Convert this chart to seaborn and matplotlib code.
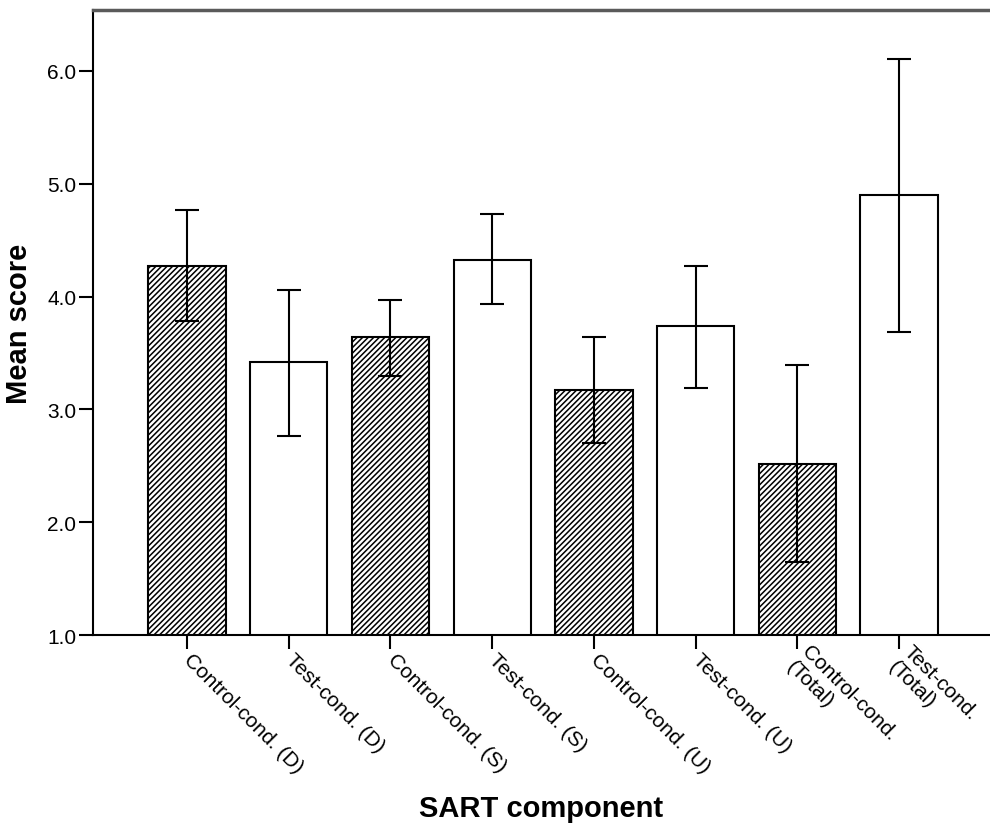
from matplotlib import pyplot as plt
import numpy as np
import seaborn as sns
import pandas as pd

# SART component scores
components = ['Control-cond. (D)', 'Test-cond. (D)', 'Control-cond. (S)', 'Test-cond. (S)',
              'Control-cond. (U)', 'Test-cond. (U)', 'Control-cond.\n(Total)', 'Test-cond.\n(Total)']
condition = ['Control', 'Test', 'Control', 'Test', 'Control', 'Test', 'Control', 'Test']
mean_score = [4.27, 3.42, 3.64, 4.32, 3.17, 3.74, 2.52, 4.90]
err_low = [3.78, 2.76, 3.30, 3.93, 2.70, 3.19, 1.65, 3.69]
err_high = [4.77, 4.06, 3.97, 4.73, 3.64, 4.27, 3.39, 6.11]
y_ticks = [1.0, 2.0, 3.0, 4.0, 5.0, 6.0]

df = pd.DataFrame({'component': components, 'condition': condition, 'mean': mean_score,
                   'low': err_low, 'high': err_high})

sns.set_style('ticks')
plt.rcParams['font.family'] = ['Liberation Sans', 'DejaVu Sans']
plt.rcParams['hatch.linewidth'] = 1.1
plt.rcParams['hatch.color'] = 'black'
# seaborn greys the text, the original is plain black
plt.rcParams['text.color'] = 'black'
plt.rcParams['axes.labelcolor'] = 'black'
plt.rcParams['xtick.color'] = 'black'
plt.rcParams['ytick.color'] = 'black'

fig = plt.figure(figsize=(9.9, 8.29), dpi=100)
ax = fig.add_axes([0.094, 0.2328, 0.906, 0.7539])

sns.barplot(data=df, x='component', y='mean', color='white', edgecolor='black',
            linewidth=1.5, width=0.76, saturation=1, ax=ax, zorder=2)

# hatch the control-condition bars
for patch, cond in zip(ax.patches, df['condition']):
    patch.set_facecolor('white')
    if cond == 'Control':
        patch.set_hatch('//////')

# error bars
xpos = np.arange(len(df))
yerr = [df['mean'] - df['low'], df['high'] - df['mean']]
ax.errorbar(xpos, df['mean'], yerr=yerr, fmt='none', ecolor='black', elinewidth=1.5,
            capsize=8.6, capthick=1.5, zorder=3)

ax.set_xlim(-0.924, 7.895)
ax.set_ylim(1.0, 6.54)
ax.set_yticks(y_ticks)
ax.set_yticklabels(['%.1f' % t for t in y_ticks], fontsize=15)
ax.set_xticks(xpos)
ax.set_xticklabels(df['component'], fontsize=15, rotation=-45, ha='left', va='center',
                   rotation_mode='anchor', multialignment='left')
ax.tick_params(axis='both', direction='out', length=10, width=1.5, color='black')
ax.tick_params(axis='x', pad=5)
ax.tick_params(axis='y', pad=2)

ax.spines['right'].set_visible(False)
ax.spines['top'].set_color('#5a5a5a')
ax.spines['top'].set_linewidth(2.5)
ax.spines['left'].set_linewidth(1.5)
ax.spines['bottom'].set_linewidth(1.5)
ax.spines['left'].set_color('black')
ax.spines['bottom'].set_color('black')

ax.set_xlabel('SART component', fontsize=21, fontweight='bold')
ax.set_ylabel('Mean score', fontsize=21, fontweight='bold')
ax.xaxis.set_label_coords(0.5, -0.255)
ax.yaxis.set_label_coords(-0.067, 0.5)

plt.savefig('out.png', dpi=100)
